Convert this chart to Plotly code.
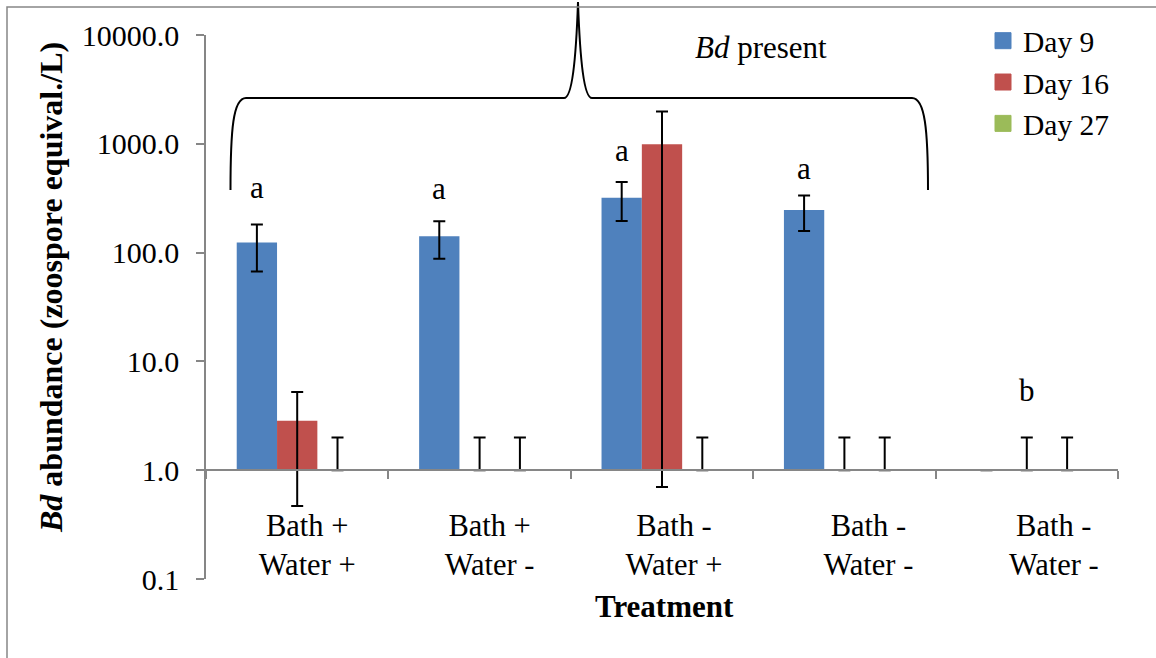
import math
import plotly.graph_objects as go

# ---------------- data ----------------
treatments = ["Bath +<br>Water +", "Bath +<br>Water -", "Bath -<br>Water +",
              "Bath -<br>Water -", "Bath -<br>Water -"]
series_names = ["Day 9", "Day 16", "Day 27"]
day9 = [124, 141, 320, 246, 0]
day9_err = [57, 53, 125, 88, 0]
day16 = [2.85, 0, 990, 0, 0]
day16_err = [2.38, 2, 989.3, 2, 2]
day27 = [0, 0, 0, 0, 0]
day27_err = [2, 2, 2, 2, 2]
letters = ["a", "a", "a", "a", "b"]
y_ticks = [0.1, 1, 10, 100, 1000, 10000]

# ---------------- layout / style ----------------
W, H = 1156, 658
ML, MR, MT, MB = 206, 38, 35, 79
PW, PH = W - ML - MR, H - MT - MB
Y_LOG_RANGE = [-1, 4]
AXIS_CROSS = 1.0
BARGAP = 0.337
FONT = "Liberation Serif, Times New Roman, serif"
GRAY = "#868686"
COLORS = ["#4F81BD", "#C0504D", "#9BBB59"]

letter_series = [0, 0, 0, 0, 1]          # which bar each letter sits over
letter_y_log = [2.597, 2.587, 2.937, 2.771, 0.733]
label_nudge_px = [10, 10, 12, 24, 27]     # Excel label offsets


def px_x(px):
    return (px - ML) / PW


def px_y(py):
    return (MT + PH - py) / PH


n = len(treatments)
x_idx = list(range(n))
cat_px = PW / n
bar_w = (1 - BARGAP) / len(series_names)

fig = go.Figure()
for name, vals, errs, col in zip(series_names, [day9, day16, day27],
                                 [day9_err, day16_err, day27_err], COLORS):
    tops = [max(v, AXIS_CROSS) for v in vals]
    size = [t - AXIS_CROSS for t in tops]
    eplus = [max(v + e - t, 0) for v, e, t in zip(vals, errs, tops)]
    eminus = [(t - (v - e)) if v - e > 0 else 0 for v, e, t in zip(vals, errs, tops)]
    fig.add_trace(go.Bar(
        x=x_idx, y=size, base=AXIS_CROSS, name=name, showlegend=False,
        marker=dict(color=col, line=dict(width=0)),
        error_y=dict(type="data", symmetric=False, array=eplus, arrayminus=eminus,
                     color="black", thickness=2, width=6),
    ))
    fig.add_trace(go.Scatter(
        x=[None], y=[None], mode="markers", name=name, showlegend=True,
        marker=dict(symbol="square", size=16, color=col, line=dict(color=col, width=1)),
    ))

annotations = []
for i, (txt, s, ylog) in enumerate(zip(letters, letter_series, letter_y_log)):
    annotations.append(dict(
        x=i + (s - 1) * bar_w, y=ylog, xref="x", yref="y", text=txt,
        showarrow=False, font=dict(family=FONT, size=31, color="black"),
        xanchor="center", yanchor="middle"))

annotations.append(dict(
    x=px_x(760.5), y=px_y(47.8), xref="paper", yref="paper",
    text="<i>Bd</i> present", showarrow=False,
    font=dict(family=FONT, size=31, color="black"), xanchor="center", yanchor="middle"))
annotations.append(dict(
    x=px_x(50.5), y=px_y(287.5), xref="paper", yref="paper", textangle=-90,
    text="<b><i>Bd</i> abundance (zoospore equival./L)</b>", showarrow=False,
    font=dict(family=FONT, size=32, color="black"), xanchor="center", yanchor="middle"))
annotations.append(dict(
    x=px_x(664.7), y=px_y(606.5), xref="paper", yref="paper",
    text="<b>Treatment</b>", showarrow=False,
    font=dict(family=FONT, size=31, color="black"), xanchor="center", yanchor="middle"))

# curly brace over the Bd-present groups
def P(x, y):
    return f"{px_x(x):.5f},{px_y(y):.5f}"

brace = ("M " + P(230.5, 190) + " C " + P(230.5, 130) + " " + P(233, 98) + " " + P(246, 98)
         + " L " + P(564, 98) + " C " + P(572, 98) + " " + P(576, 60) + " " + P(578, 2)
         + " C " + P(580, 60) + " " + P(584, 98) + " " + P(592, 98)
         + " L " + P(912, 98) + " C " + P(925, 98) + " " + P(928, 130) + " " + P(928, 190))

shapes = [
    dict(type="path", path=brace, xref="paper", yref="paper",
         line=dict(color="black", width=2)),
    dict(type="rect", xref="paper", yref="paper",
         x0=px_x(7), y0=px_y(7), x1=px_x(W + 10), y1=px_y(H + 10),
         line=dict(color=GRAY, width=1.5)),
]

cross_pos = (math.log10(AXIS_CROSS) - Y_LOG_RANGE[0]) / (Y_LOG_RANGE[1] - Y_LOG_RANGE[0])

fig.update_layout(
    width=W, height=H, margin=dict(l=ML, r=MR, t=MT, b=MB, pad=0),
    paper_bgcolor="white", plot_bgcolor="white",
    barmode="group", bargap=BARGAP, bargroupgap=0,
    font=dict(family=FONT, size=30, color="black"),
    xaxis=dict(
        range=[-0.5, n - 0.5], tickmode="array",
        tickvals=[i + nd / cat_px for i, nd in zip(x_idx, label_nudge_px)],
        ticktext=treatments, ticks="", showline=True, linecolor=GRAY, linewidth=2,
        anchor="free", position=cross_pos, showgrid=False, zeroline=False,
        ticklabelstandoff=28, tickfont=dict(family=FONT, size=30.5, color="black"),
        minor=dict(tickmode="array", tickvals=[i - 0.5 for i in range(n + 1)],
                   ticks="outside", ticklen=8, tickcolor=GRAY, tickwidth=1.5, showgrid=False),
    ),
    yaxis=dict(
        type="log", range=Y_LOG_RANGE, tickmode="array", tickvals=y_ticks,
        tickformat=".1f", ticks="outside", ticklen=8, tickcolor=GRAY, tickwidth=1.5,
        showline=True, linecolor=GRAY, linewidth=1.5, showgrid=False, zeroline=False,
        ticklabelstandoff=11, tickfont=dict(family=FONT, size=30, color="black"),
    ),
    legend=dict(x=px_x(983), y=px_y(15), xanchor="left", yanchor="top",
                font=dict(family=FONT, size=29.5, color="black"),
                bgcolor="rgba(0,0,0,0)", borderwidth=0),
    annotations=annotations, shapes=shapes,
)

fig.write_html("out.html")
